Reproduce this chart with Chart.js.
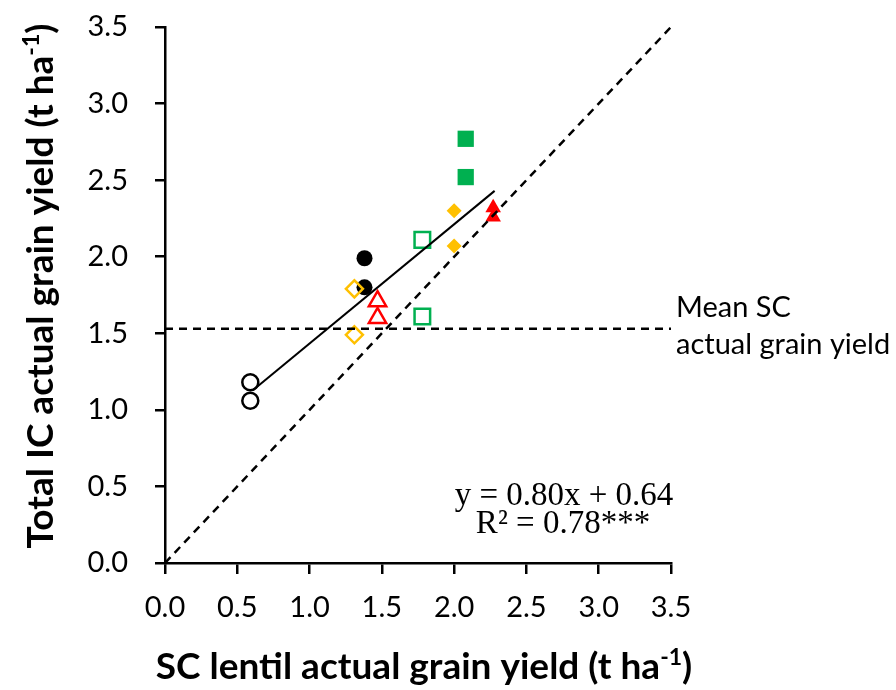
<!DOCTYPE html>
<html>
<head>
<meta charset="utf-8">
<script src="https://cdn.jsdelivr.net/npm/chart.js@4.4.0/dist/chart.umd.min.js"></script>
<style>
  html, body { margin: 0; padding: 0; background: #fff; }
  #c { display: block; }
</style>
</head>
<body>
<canvas id="c" width="896" height="690"></canvas>
<script>
// values (t/ha)
const openCircles     = [{x: 0.59, y: 1.18}, {x: 0.59, y: 1.06}];
const filledCircles   = [{x: 1.38, y: 1.99}, {x: 1.38, y: 1.80}];
const openDiamonds    = [{x: 1.31, y: 1.79}, {x: 1.31, y: 1.49}];
const filledDiamonds  = [{x: 2.00, y: 2.30}, {x: 2.00, y: 2.07}];
const openTriangles   = [{x: 1.47, y: 1.71}, {x: 1.47, y: 1.60}];
const filledTriangles = [{x: 2.27, y: 2.32}, {x: 2.27, y: 2.26}];
const openSquares     = [{x: 1.78, y: 2.11}, {x: 1.78, y: 1.61}];
const filledSquares   = [{x: 2.08, y: 2.77}, {x: 2.08, y: 2.52}];

const regression = [{x: 0.61, y: 1.13}, {x: 2.28, y: 2.43}];
const oneToOne   = [{x: 0, y: 0}, {x: 3.5, y: 3.5}];
const meanSC = 1.53;
const meanLine = [{x: 0, y: meanSC}, {x: 3.5, y: meanSC}];

const axisMin = 0, axisMax = 3.5, axisStep = 0.5;

const xTitle = ['SC lentil actual grain yield (t ha', '-1', ')'];
const yTitle = ['Total IC actual grain yield (t ha', '-1', ')'];
const meanLabel = ['Mean SC', 'actual grain yield'];
const eqLines = ['y = 0.80x + 0.64', 'R\u00b2 = 0.78***'];

const sans = 'Lato, "Open Sans", sans-serif';
const serif = '"Liberation Serif", "Times New Roman", serif';
const GREEN = '#00B050', ORANGE = '#FFC000', RED = '#FF0000';

function pts(data, style, r, color, filled) {
  return {
    data, order: 2,
    pointStyle: style, pointRadius: r, pointHoverRadius: r,
    pointBackgroundColor: filled ? color : 'rgba(0,0,0,0)',
    pointBorderColor: color, pointBorderWidth: filled ? 0 : 2.5
  };
}

function line(data, dash, width) {
  return {
    data, order: 0, showLine: true, pointRadius: 0, pointHoverRadius: 0,
    borderColor: '#000', borderWidth: width, borderDash: dash, fill: false
  };
}

// text with a superscript piece, centred on cx
function supLine(ctx, parts, cx, base, size) {
  const big = `bold ${size}px ${sans}`, small = `bold ${Math.round(size * 0.62)}px ${sans}`;
  ctx.font = big;   const w1 = ctx.measureText(parts[0]).width;
  ctx.font = small; const w2 = ctx.measureText(parts[1]).width;
  ctx.font = big;   const w3 = ctx.measureText(parts[2]).width;
  let x = cx - (w1 + w2 + w3) / 2;
  ctx.textAlign = 'left';
  ctx.textBaseline = 'alphabetic';
  ctx.font = big;   ctx.fillText(parts[0], x, base); x += w1;
  ctx.font = small; ctx.fillText(parts[1], x, base - size * 0.38); x += w2;
  ctx.font = big;   ctx.fillText(parts[2], x, base);
}

const extraText = {
  id: 'extraText',
  afterDraw(chart) {
    const ctx = chart.ctx;
    const xs = chart.scales.x, ys = chart.scales.y;
    ctx.save();
    ctx.fillStyle = '#000';

    supLine(ctx, xTitle, 424, 679, 37);

    ctx.save();
    ctx.translate(53, 286);
    ctx.rotate(-Math.PI / 2);
    supLine(ctx, yTitle, 0, 0, 37);
    ctx.restore();

    const my = ys.getPixelForValue(meanSC);
    ctx.font = `29px ${sans}`;
    ctx.textAlign = 'left';
    ctx.textBaseline = 'alphabetic';
    ctx.fillText(meanLabel[0], xs.right + 5, my - 12);
    ctx.fillText(meanLabel[1], xs.right + 5, my + 25);

    ctx.font = `33px ${serif}`;
    ctx.textAlign = 'center';
    ctx.fillText(eqLines[0], 564, 505);
    ctx.fillText(eqLines[1], 563, 533);
    ctx.restore();
  }
};

const tickFont = { family: sans, size: 29 };

new Chart(document.getElementById('c'), {
  type: 'scatter',
  data: {
    datasets: [
      line(regression, [], 2),
      line(oneToOne, [8, 6], 2.5),
      line(meanLine, [8, 6], 2.5),
      pts(filledSquares, 'rect', 11.5, GREEN, true),
      pts(openSquares, 'rect', 11, GREEN, false),
      pts(filledTriangles, 'triangle', 9, RED, true),
      pts(openTriangles, 'triangle', 10, RED, false),
      pts(filledDiamonds, 'rectRot', 7.5, ORANGE, true),
      pts(openDiamonds, 'rectRot', 8.5, ORANGE, false),
      pts(filledCircles, 'circle', 8, '#000', true),
      pts(openCircles, 'circle', 8, '#000', false)
    ]
  },
  options: {
    responsive: false,
    animation: false,
    devicePixelRatio: 1,
    layout: { padding: { top: 27, right: 225, left: 0, bottom: 0 } },
    plugins: { legend: { display: false }, tooltip: { enabled: false } },
    scales: {
      x: {
        type: 'linear', min: axisMin, max: axisMax,
        afterFit: s => { s.height = 127; },
        border: { color: '#000', width: 2.5 },
        grid: { drawOnChartArea: false, color: '#000', lineWidth: 2.5, tickLength: 11 },
        ticks: { stepSize: axisStep, padding: 16, color: '#000', font: tickFont,
                 maxRotation: 0, autoSkip: false, callback: v => v.toFixed(1) }
      },
      y: {
        type: 'linear', min: axisMin, max: axisMax,
        afterFit: s => { s.width = 165; s.paddingTop = 0; s.paddingBottom = 0; },
        border: { color: '#000', width: 2.5 },
        grid: { drawOnChartArea: false, color: '#000', lineWidth: 2.5, tickLength: 10 },
        ticks: { stepSize: axisStep, padding: 27, color: '#000', font: tickFont,
                 autoSkip: false, callback: v => v.toFixed(1) }
      }
    }
  },
  plugins: [extraText]
});
</script>
</body>
</html>
